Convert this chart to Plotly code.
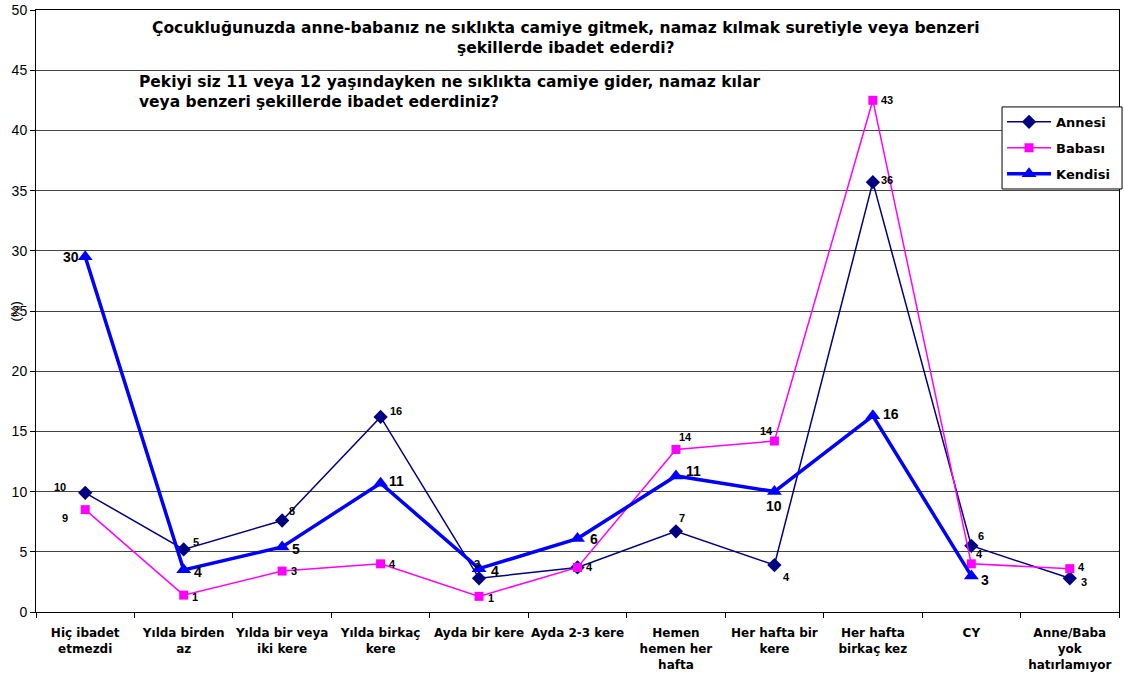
import plotly.graph_objects as go

categories = ["Hiç ibadet<br>etmezdi", "Yılda birden<br>az", "Yılda bir veya<br>iki kere",
              "Yılda birkaç<br>kere", "Ayda bir kere", "Ayda 2-3 kere",
              "Hemen<br>hemen her<br>hafta", "Her hafta bir<br>kere", "Her hafta<br>birkaç kez",
              "CY", "Anne/Baba<br>yok<br>hatırlamıyor"]

annesi = [9.9, 5.2, 7.6, 16.2, 2.8, 3.7, 6.7, 3.9, 35.7, 5.5, 2.8]
babasi = [8.5, 1.4, 3.4, 4.0, 1.3, 3.7, 13.5, 14.2, 42.5, 4.0, 3.6]
kendisi = [29.5, 3.5, 5.4, 10.7, 3.6, 6.1, 11.3, 10.0, 16.3, 3.0, None]

annesi_lbl = ["10", "5", "8", "16", "3", "", "7", "4", "36", "6", "3"]
babasi_lbl = ["9", "1", "3", "4", "1", "4", "14", "14", "43", "4", "4"]
kendisi_lbl = ["30", "4", "5", "11", "4", "6", "11", "10", "16", "3", ""]

# label offsets (px) relative to each point
annesi_off = [(-25, 6), (12, 7), (10, 10), (15, 6), (-2, 14), (0, 0), (6, 13), (12, -12), (14, 2), (10, 10), (14, -4)]
babasi_off = [(-20, -8), (11, -2), (12, 0), (12, 0), (12, -2), (12, 0), (10, 12), (-8, 10), (14, 0), (8, 10), (12, 2)]
kendisi_off = [(-14, 0), (14, -2), (14, -2), (16, 2), (16, -2), (16, 0), (18, 5), (0, -14), (18, 2), (14, -4), (0, 0)]

BOLD_FONT = "DejaVu Sans, sans-serif"
NUM_FONT = "Liberation Sans, Arial, sans-serif"

fig = go.Figure()
fig.add_trace(go.Scatter(x=categories, y=annesi, name="<b>Annesi</b>", mode="lines+markers",
                         legendgroup="a",
                         line=dict(color="#000080", width=1.5),
                         marker=dict(symbol="diamond", size=11, color="#000080")))
fig.add_trace(go.Scatter(x=categories, y=babasi, name="<b>Babası</b>", mode="lines+markers",
                         legendgroup="b",
                         line=dict(color="#FF00FF", width=1.5),
                         marker=dict(symbol="square", size=9, color="#FF00FF")))
fig.add_trace(go.Scatter(x=categories, y=kendisi, name="<b>Kendisi</b>", mode="lines+markers",
                         legendgroup="c",
                         line=dict(color="#0000FF", width=3.5),
                         marker=dict(symbol="triangle-up", size=13, color="#0000FF")))

annotations = []
for vals, lbls, offs, fs in [(annesi, annesi_lbl, annesi_off, 11), (babasi, babasi_lbl, babasi_off, 11),
                             (kendisi, kendisi_lbl, kendisi_off, 14)]:
    for c, v, t, (dx, dy) in zip(categories, vals, lbls, offs):
        if v is None or not t:
            continue
        annotations.append(dict(x=c, y=v, xref="x", yref="y", text="<b>%s</b>" % t, showarrow=False,
                                xshift=dx, yshift=dy, font=dict(size=fs, color="black", family=NUM_FONT)))

annotations.append(dict(xref="paper", yref="paper", x=0.489, y=0.953, xanchor="center", yanchor="middle",
                        showarrow=False,
                        text="<b>Çocukluğunuzda anne-babanız ne sıklıkta camiye gitmek, namaz kılmak suretiyle veya benzeri<br>şekillerde ibadet ederdi?</b>",
                        font=dict(size=15.5, color="black", family=BOLD_FONT)))
annotations.append(dict(xref="paper", yref="paper", x=0.093, y=0.864, xanchor="left", yanchor="middle",
                        showarrow=False, align="left",
                        text="<b>Pekiyi siz 11 veya 12 yaşındayken ne sıklıkta camiye gider, namaz kılar<br>veya benzeri şekillerde ibadet ederdiniz?</b>",
                        font=dict(size=15.5, color="black", family=BOLD_FONT)))
annotations.append(dict(xref="paper", yref="paper", x=-0.019, y=0.5, xanchor="center", yanchor="middle",
                        showarrow=False, textangle=-90, text="(%)", font=dict(size=13, color="black", family=NUM_FONT)))

# legend frame
shapes = [dict(type="rect", xref="paper", yref="paper", x0=0.892, x1=1.0028, y0=0.7027, y1=0.839,
               line=dict(color="black", width=1), fillcolor="white", layer="above")]

fig.update_layout(
    width=1124, height=683,
    margin=dict(l=36, r=5, t=10, b=71, autoexpand=False),
    paper_bgcolor="white", plot_bgcolor="white",
    font=dict(family=NUM_FONT, color="black"),
    showlegend=True,
    legend=dict(x=0.892, y=0.839, xanchor="left", yanchor="top",
                borderwidth=0, bgcolor="rgba(0,0,0,0)",
                font=dict(size=13, color="black", family=BOLD_FONT), tracegroupgap=6,
                itemwidth=44),
    annotations=annotations,
    shapes=shapes,
    xaxis=dict(type="category", range=[-0.5, 10.5], showline=True, linecolor="black", linewidth=1, mirror=True,
               ticks="outside", ticklen=5, tickcolor="black", tickson="boundaries",
               showgrid=False, tickfont=dict(size=12, color="black", family=BOLD_FONT, weight="bold"),
               tickangle=0, ticklabelstandoff=10, automargin=False),
    yaxis=dict(range=[0, 50], dtick=5, showline=True, linecolor="black", linewidth=1, mirror=True,
               ticks="outside", ticklen=5, tickcolor="black", showgrid=True, gridcolor="#444444",
               gridwidth=1, tickfont=dict(size=14, color="black"), zeroline=False, automargin=False),
)

fig.write_html("out.html", config={"displayModeBar": False},
               post_script="document.body.style.margin='0';document.body.style.overflow='hidden';")
